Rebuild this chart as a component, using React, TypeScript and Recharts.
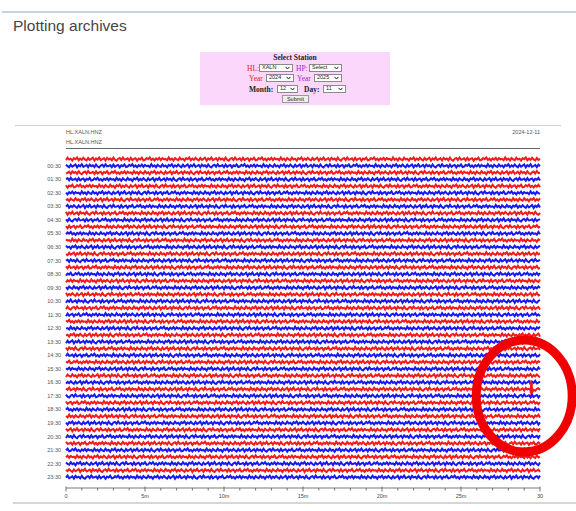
import React from 'react';
import { LineChart, Line, XAxis, YAxis, ReferenceDot } from 'recharts';

// ---------- data ----------
const TRACE_COUNT = 48; // one trace per 30 minutes, 00:00 .. 23:30
const TRACE_COLORS = ['#f21a1a', '#1818f0']; // alternating red / blue
const TIME_LABELS = [
  '00:30', '01:30', '02:30', '03:30', '04:30', '05:30', '06:30', '07:30',
  '08:30', '09:30', '10:30', '11:30', '12:30', '13:30', '14:30', '15:30',
  '16:30', '17:30', '18:30', '19:30', '20:30', '21:30', '22:30', '23:30',
];
const LABEL_TRACES = [
  1, 3, 5, 7, 9, 11, 13, 15, 17, 19, 21, 23, 25, 27, 29, 31, 33, 35, 37, 39, 41, 43, 45, 47,
];
const X_TICKS = [
  0, 1, 2, 3, 4, 5, 6, 7, 8, 9, 10, 11, 12, 13, 14, 15, 16, 17, 18, 19, 20, 21, 22, 23, 24, 25,
  26, 27, 28, 29, 30,
];
const X_LABELS: Record<number, string> = { 0: '0', 5: '5m', 10: '10m', 15: '15m', 20: '20m', 25: '25m', 30: '30' };
// background seismic noise (relative amplitude, read as a band ~4-5px thick)
const NOISE = [
  0.6, -0.8, 0.3, -0.2, 0.9, -0.5, 0.1, -0.9, 0.7, -0.3, 0.4, -0.7, 0.2, 0.8, -0.6, 0.5,
  -0.1, -0.8, 0.9, -0.4, 0.3, -0.9, 0.6, 0.1, -0.5, 0.8, -0.7, 0.2, -0.3, 0.7, -0.8, 0.4,
  0.9, -0.2, -0.6, 0.5, -0.9, 0.3, 0.1, -0.4, 0.8, -0.7, 0.6, -0.1, -0.5, 0.9, -0.3, 0.2,
  -0.8, 0.7, 0.4, -0.6, 0.1, -0.9, 0.5, -0.2, 0.8, -0.4, 0.3, -0.7, 0.6, -0.5, 0.2, -0.1,
  0.7, -0.9, 0.4, -0.3, 0.8, -0.6, 0.2,
];
const NOISE_AMP = 0.26;
const SAMPLE_STEP = 0.1; // minutes between samples
// small event near the end of the 17:00 trace
const EVENT_TRACE = 34;
const EVENT_MINUTES = [29.42, 29.44, 29.46, 29.48, 29.5];
const EVENT_OFFSETS = [0.6, -1.3, 1.25, -0.9, 0.5];
// annotation ellipse position (minutes, trace)
const MARK_MINUTE = 29.0;
const MARK_TRACE = 35.0;

type Pt = { m: number; v: number };
const traces: Pt[][] = [];
for (let i = 0; i < TRACE_COUNT; i++) {
  const pts: Pt[] = [];
  const n = Math.round(30 / SAMPLE_STEP);
  for (let j = 0; j <= n; j++) {
    const m = +(j * SAMPLE_STEP).toFixed(3);
    if (i === EVENT_TRACE && m > 29.4 && m < 29.52) continue;
    pts.push({ m, v: i + NOISE_AMP * NOISE[(j + i * 11) % NOISE.length] });
  }
  if (i === EVENT_TRACE) {
    EVENT_MINUTES.forEach((m, k) => pts.push({ m, v: i + EVENT_OFFSETS[k] }));
    pts.sort((a, b) => a.m - b.m);
  }
  traces.push(pts);
}

// ---------- ticks ----------
const XTick = (props: any) => {
  const { x, y, payload } = props;
  const label = X_LABELS[payload.value];
  const major = label !== undefined;
  return (
    <g>
      <line x1={x} x2={x} y1={major ? y - 1.5 : y} y2={y + (major ? 3.5 : 2.5)} stroke="#555" strokeWidth={0.8} />
      {major && (
        <text x={x} y={y + 10} textAnchor="middle" fontSize={5.5} fill="#444" fontFamily='"Liberation Sans", Arial, sans-serif'>
          {label}
        </text>
      )}
    </g>
  );
};

const yTickFormat = (v: number) => {
  const k = LABEL_TRACES.indexOf(v);
  return k >= 0 ? TIME_LABELS[k] : '';
};

// ---------- form pieces ----------
const Chevron = () => (
  <svg width={5} height={4} style={{ marginLeft: 2 }}>
    <polyline points="0.5,0.8 2.5,3 4.5,0.8" fill="none" stroke="#222" strokeWidth={1} />
  </svg>
);

const FakeSelect = ({ left, top, width, text }: { left: number; top: number; width: number; text: string }) => (
  <div
    style={{
      position: 'absolute',
      left,
      top,
      width,
      height: 8,
      boxSizing: 'border-box',
      border: '1px solid #8a8a8a',
      background: '#fff',
      display: 'flex',
      alignItems: 'center',
      justifyContent: 'space-between',
      padding: '0 2px',
      fontFamily: '"Liberation Sans", Arial, sans-serif',
      fontSize: 5.5,
      color: '#222',
      lineHeight: 1,
    }}
  >
    <span>{text}</span>
    <Chevron />
  </div>
);

const Label = ({ left, top, text, color, bold }: { left: number; top: number; text: string; color: string; bold?: boolean }) => (
  <div
    style={{
      position: 'absolute',
      left,
      top,
      fontFamily: '"Liberation Serif", "Times New Roman", serif',
      fontSize: 7.5,
      fontWeight: bold ? 700 : 400,
      color,
      lineHeight: 1,
      whiteSpace: 'nowrap',
    }}
  >
    {text}
  </div>
);

const sans = '"Liberation Sans", Arial, sans-serif';

export default function App() {
  return (
    <div
      style={{
        position: 'fixed',
        left: 0,
        top: 0,
        width: 576,
        height: 511,
        background: '#fff',
        overflow: 'hidden',
        fontFamily: sans,
      }}
    >
      {/* top rule */}
      <div style={{ position: 'absolute', left: 2, top: 11, width: 574, height: 1.5, background: '#c9d1e6' }} />
      <div style={{ position: 'absolute', left: 13, top: 17.5, fontSize: 15.5, lineHeight: 1, color: '#454545', fontFamily: sans }}>
        Plotting archives
      </div>

      {/* station form */}
      <div style={{ position: 'absolute', left: 200, top: 52, width: 190, height: 53, background: '#fbd8fb' }} />
      <div
        style={{
          position: 'absolute',
          left: 200,
          width: 190,
          top: 53.5,
          textAlign: 'center',
          fontFamily: '"Liberation Serif", serif',
          fontWeight: 700,
          fontSize: 7.5,
          lineHeight: 1,
          color: '#222',
        }}
      >
        Select Station
      </div>
      <Label left={247} top={64.5} text="HL:" color="#e0201f" />
      <FakeSelect left={259} top={64} width={34} text="XALN" />
      <Label left={296} top={64.5} text="HP:" color="#a020d0" />
      <FakeSelect left={309} top={64} width={33} text="Select" />

      <Label left={249} top={74.5} text="Year" color="#e0201f" />
      <FakeSelect left={266} top={74} width={28} text="2024" />
      <Label left={297} top={74.5} text="Year" color="#a020d0" />
      <FakeSelect left={314} top={74} width={28} text="2025" />

      <Label left={249} top={85.5} text="Month:" color="#222" bold />
      <FakeSelect left={277} top={85} width={21} text="12" />
      <Label left={304} top={85.5} text="Day:" color="#222" bold />
      <FakeSelect left={323} top={85} width={23} text="11" />

      <div
        style={{
          position: 'absolute',
          left: 282,
          top: 95,
          width: 27,
          height: 8,
          boxSizing: 'border-box',
          border: '1px solid #999',
          background: '#efefef',
          fontFamily: sans,
          fontSize: 5.5,
          lineHeight: '6px',
          textAlign: 'center',
          color: '#222',
        }}
      >
        Submit
      </div>

      {/* separators */}
      <div style={{ position: 'absolute', left: 15, top: 124.5, width: 546, height: 1.2, background: '#cfcfcf' }} />
      <div style={{ position: 'absolute', left: 13, top: 502, width: 563, height: 2, background: '#d6d6d6' }} />

      {/* plot header */}
      <div style={{ position: 'absolute', left: 66, top: 130, fontSize: 5.5, lineHeight: 1, color: '#555' }}>HL.XALN.HNZ</div>
      <div style={{ position: 'absolute', left: 66, top: 140, fontSize: 5.5, lineHeight: 1, color: '#555' }}>HL.XALN.HNZ</div>
      <div style={{ position: 'absolute', left: 440, width: 100, textAlign: 'right', top: 130, fontSize: 5.5, lineHeight: 1, color: '#555' }}>
        2024-12-11
      </div>
      <div style={{ position: 'absolute', left: 66, top: 148, width: 474, height: 1, background: '#666' }} />

      <div style={{ position: 'absolute', left: 0, top: 0 }}>
        <LineChart width={576} height={511} margin={{ top: 155, right: 36, bottom: 3, left: 0 }}>
          <XAxis
            type="number"
            dataKey="m"
            domain={[0, 30]}
            ticks={X_TICKS}
            interval={0}
            allowDuplicatedCategory={false}
            tick={<XTick />}
            tickLine={false}
            tickSize={0}
            tickMargin={0}
            height={20}
            axisLine={{ stroke: '#555', strokeWidth: 0.8 }}
          />
          <YAxis
            type="number"
            dataKey="v"
            domain={[-0.6, 48.6]}
            reversed
            ticks={LABEL_TRACES}
            interval={0}
            tickFormatter={yTickFormat}
            tick={{ fontSize: 5.5, fill: '#555', fontFamily: sans }}
            tickLine={false}
            axisLine={false}
            tickSize={3}
            tickMargin={2}
            width={66}
            allowDataOverflow
          />
          {traces.map((pts, i) => (
            <Line
              key={i}
              data={pts}
              dataKey="v"
              type="linear"
              stroke={TRACE_COLORS[i % 2]}
              strokeWidth={2}
              strokeLinejoin="miter"
              dot={false}
              activeDot={false}
              isAnimationActive={false}
            />
          ))}
          <ReferenceDot
            x={MARK_MINUTE}
            y={MARK_TRACE}
            ifOverflow="visible"
            shape={(p: any) => (
              <ellipse cx={p.cx} cy={p.cy} rx={48} ry={56} fill="none" stroke="#f00000" strokeWidth={9} />
            )}
          />
        </LineChart>
      </div>
    </div>
  );
}
